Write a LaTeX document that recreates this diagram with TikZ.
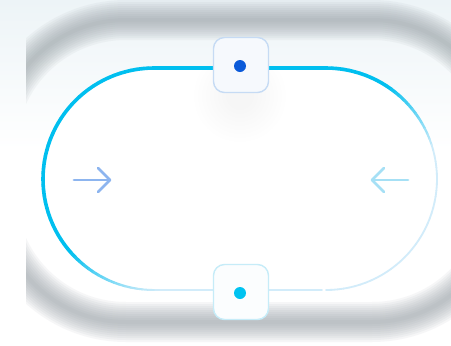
\documentclass[tikz,border=0pt]{standalone}
\usetikzlibrary{calc}
\definecolor{bgTop}{HTML}{EDF4F7}
\definecolor{ringGray}{HTML}{8F989E}
\definecolor{cyanS}{HTML}{00BFEF}
\definecolor{paleS}{HTML}{D2ECFA}
\definecolor{knobFill}{HTML}{F6F9FD}
\definecolor{knobEdgeA}{HTML}{C6DBF4}
\definecolor{knobEdgeB}{HTML}{C6ECF8}
\definecolor{dotBlue}{HTML}{0B5AD9}
\definecolor{dotCyan}{HTML}{00C3F1}
\definecolor{arrowBlue}{HTML}{8DB5EF}
\definecolor{arrowCyan}{HTML}{A6E0F5}
\tikzset{
  knob/.style={draw, line width=1.4pt, fill=knobFill, rounded corners=11pt,
    minimum width=55pt, minimum height=55pt, inner sep=0pt},
  knobdot/.style={circle, inner sep=0pt, minimum size=12pt},
  pointer/.style={line width=2.8pt, line cap=round, line join=round},
}
\begin{document}
\begin{tikzpicture}[x=1pt, y=-1pt]
  \useasboundingbox (0,0) rectangle (451,346);
  % page background: pale blue-grey at the top, white below
  \fill[white] (0,0) rectangle (451,346);
  \shade[top color=bgTop, bottom color=white] (0,0) rectangle (451,150);

  % soft grey ring behind the track
  \begin{scope}
    \clip (26,0) rectangle (451,346);
    \foreach \w in {4,8,...,40}{
      \draw[ringGray, opacity=0.08, line width=\w pt, rounded corners=130pt]
        (-4,20) rectangle (502,322);
    }
  \end{scope}

  % track interior
  \fill[white] (154,68) -- (326,68) arc[start angle=-90, end angle=90, radius=111]
    -- (154,290) arc[start angle=90, end angle=270, radius=111] -- cycle;

  % faint shadow under the upper knob
  \foreach \r in {46,42,...,14}{
    \fill[black, opacity=0.005] (240,96) circle[radius=\r];
  }

  % track outline, fading from cyan (upper left) to pale (lower right)
  \draw[cyanS, line width=3.6pt, line cap=round] (154,68) -- (326,68);
  \foreach \x in {154,160,...,320}{
    \pgfmathsetmacro\t{0.5*(\x+3-43)/394+0.5}
    \pgfmathtruncatemacro\p{max(0,min(100,(0.65-\t)/0.2*100))}
    \pgfmathsetmacro\lw{1.8+1.8*\p/100}
    \draw[cyanS!\p!paleS, line width=\lw pt, line cap=round]
      (\x,290) -- (\x+6,290);
  }
  \foreach \a in {0,3,...,177}{
    \pgfmathsetmacro\b{\a+3}
    \pgfmathsetmacro\m{\a+1.5}
    % left end
    \pgfmathsetmacro\xm{154-111*sin(\m)}
    \pgfmathsetmacro\ym{179-111*cos(\m)}
    \pgfmathsetmacro\t{0.5*(\xm-43)/394+0.5*(\ym-68)/222}
    \pgfmathtruncatemacro\p{max(0,min(100,(0.65-\t)/0.2*100))}
    \pgfmathsetmacro\lw{1.8+1.8*\p/100}
    \draw[cyanS!\p!paleS, line width=\lw pt, line cap=round]
      ({154-111*sin(\a)},{179-111*cos(\a)}) -- ({154-111*sin(\b)},{179-111*cos(\b)});
    % right end
    \pgfmathsetmacro\xm{326+111*sin(\m)}
    \pgfmathsetmacro\t{0.5*(\xm-43)/394+0.5*(\ym-68)/222}
    \pgfmathtruncatemacro\p{max(0,min(100,(0.68-\t)/0.2*100))}
    \pgfmathsetmacro\lw{1.8+1.8*\p/100}
    \draw[cyanS!\p!paleS, line width=\lw pt, line cap=round]
      ({326+111*sin(\a)},{179-111*cos(\a)}) -- ({326+111*sin(\b)},{179-111*cos(\b)});
  }

  % knobs on the track
  \node[knob, draw=knobEdgeA] (knobTop) at (241,65) {};
  \node[knob, draw=knobEdgeB, fill=white!60!knobFill] (knobBottom) at (241,292) {};
  \node[knobdot, fill=dotBlue] (dotTop) at (240,66) {};
  \node[knobdot, fill=dotCyan] (dotBottom) at (240,293) {};

  % direction pointers
  \coordinate (lTail) at (74,180);
  \coordinate (lHead) at (110,180);
  \coordinate (rTail) at (408,180);
  \coordinate (rHead) at (372,180);
  \draw[pointer, arrowBlue] (lTail) -- (lHead);
  \draw[pointer, arrowBlue] ($(lHead)+(-12,-12)$) -- (lHead) -- ($(lHead)+(-12,12)$);
  \draw[pointer, arrowCyan] (rTail) -- (rHead);
  \draw[pointer, arrowCyan] ($(rHead)+(12,-12)$) -- (rHead) -- ($(rHead)+(12,12)$);
\end{tikzpicture}
\end{document}
